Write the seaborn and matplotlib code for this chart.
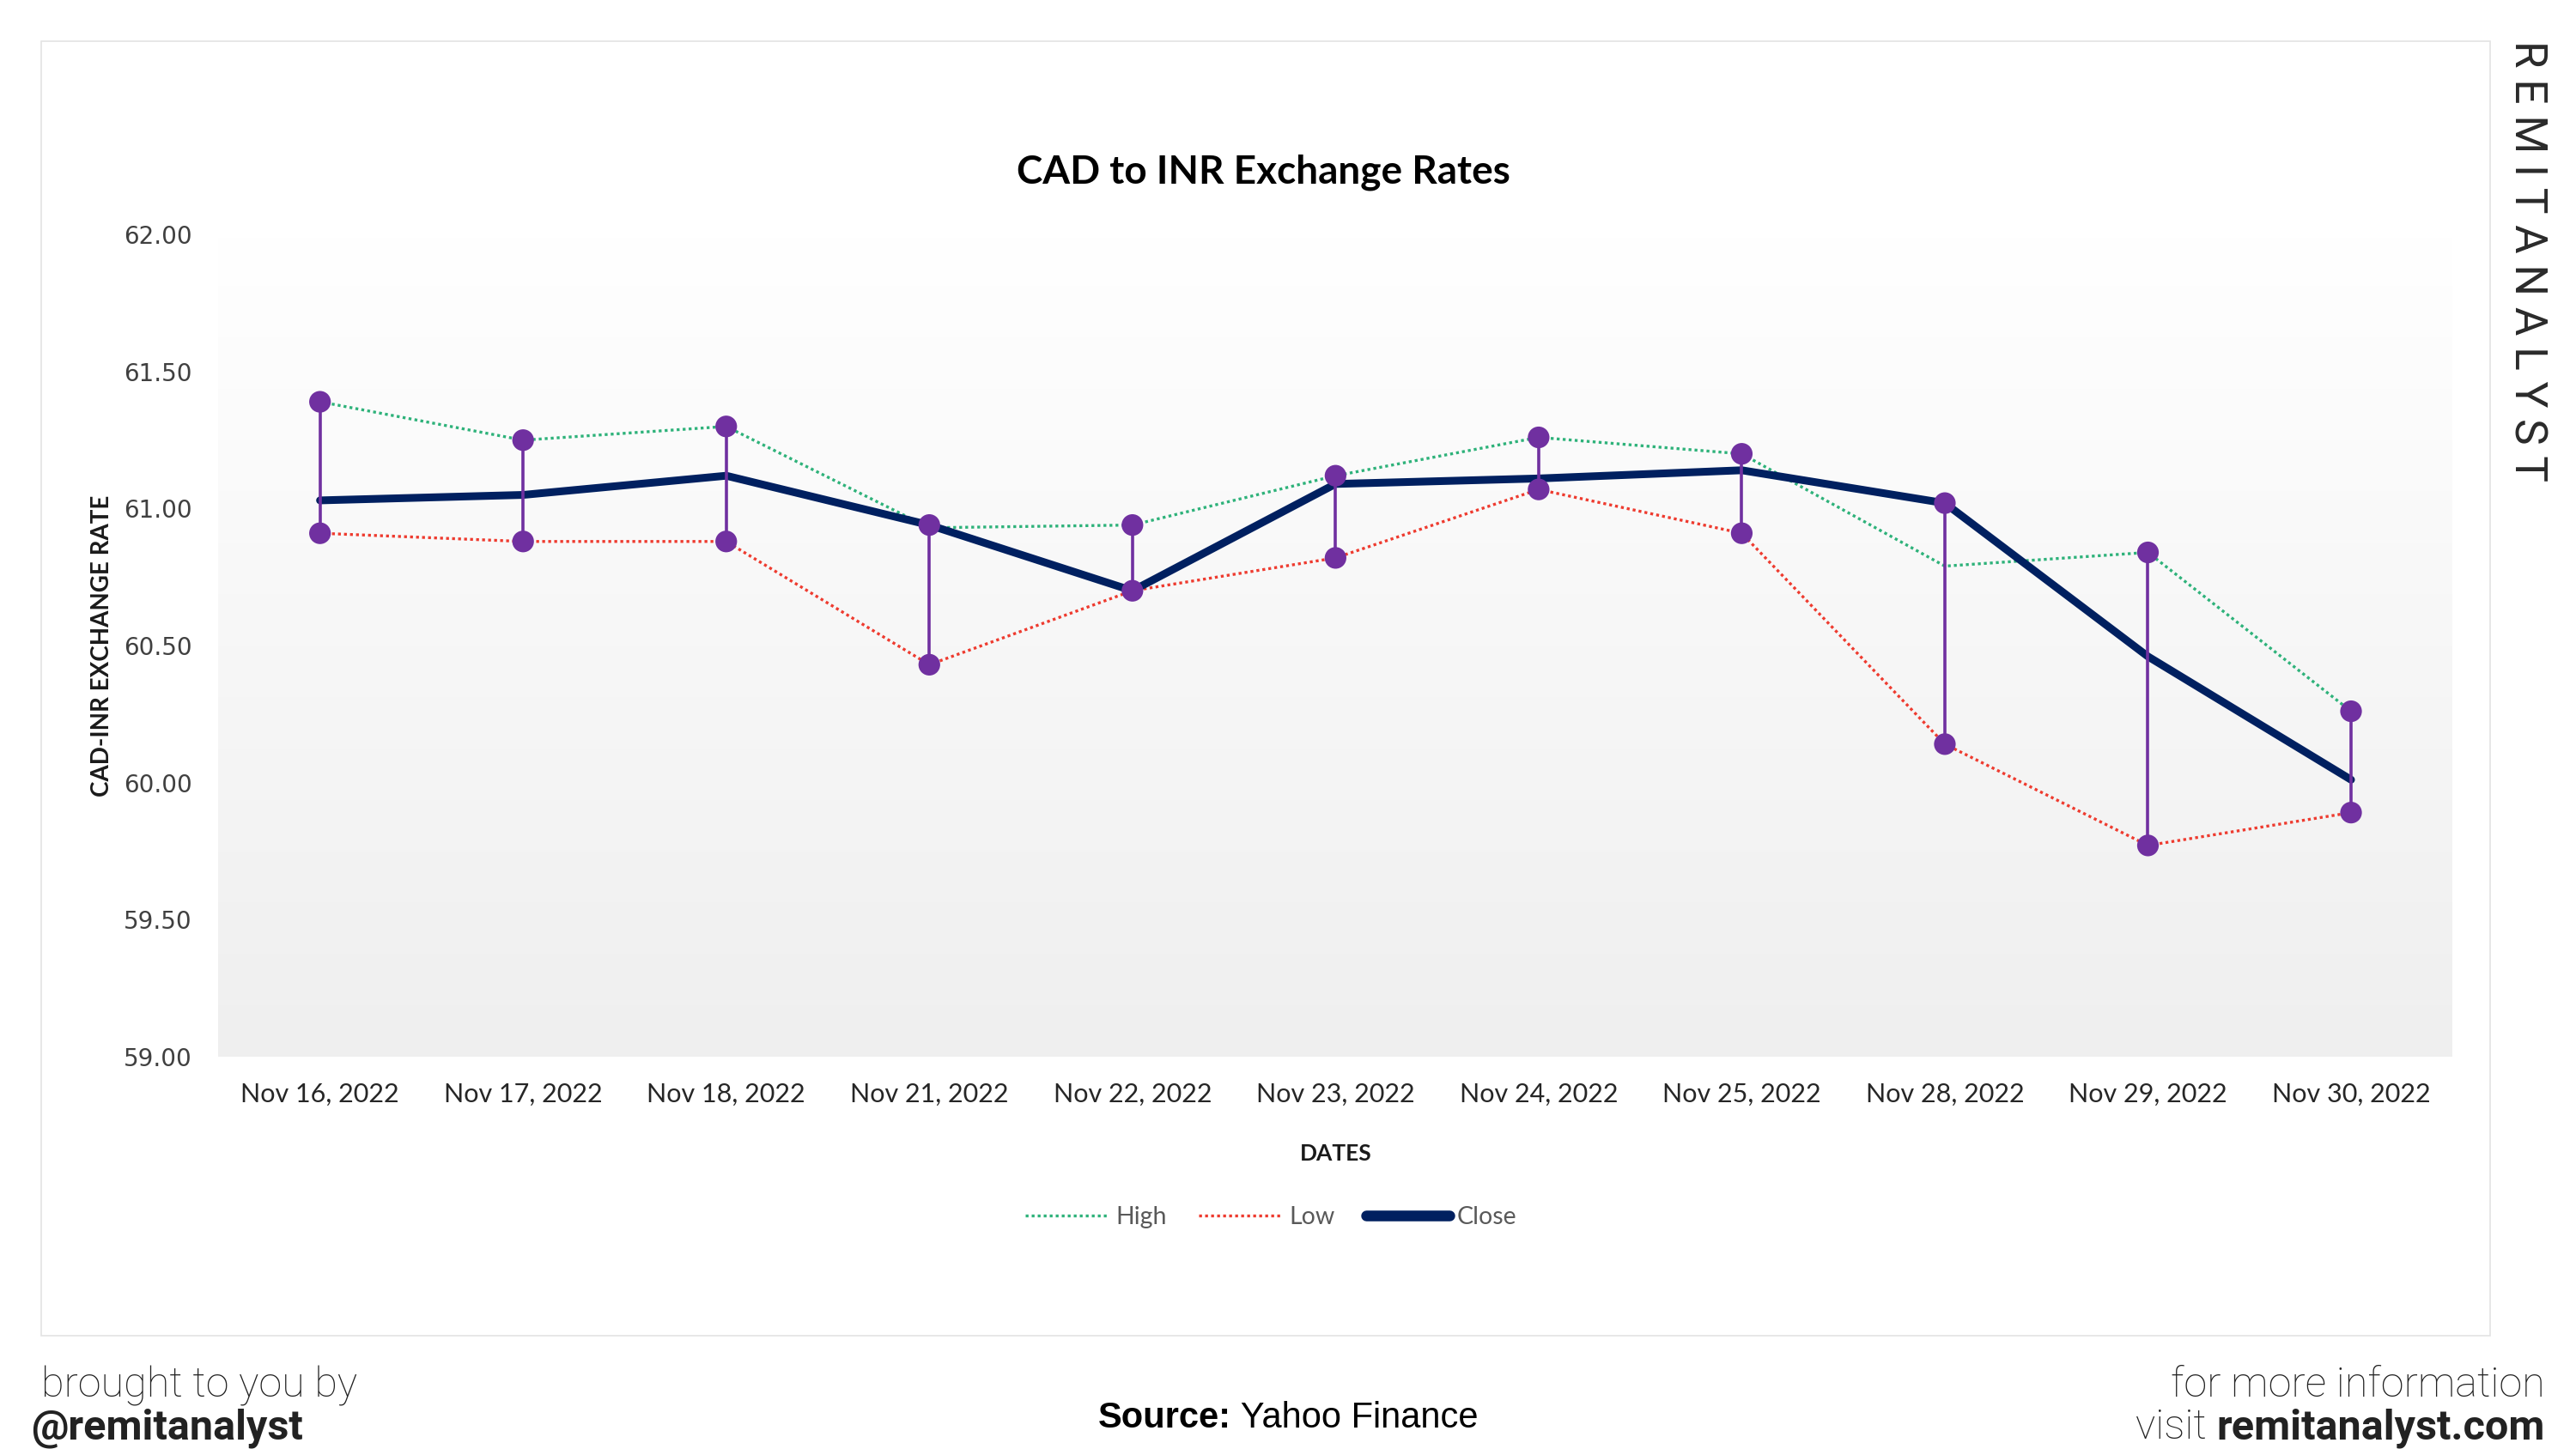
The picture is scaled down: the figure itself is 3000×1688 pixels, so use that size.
import numpy as np
import pandas as pd
import matplotlib.pyplot as plt
import seaborn as sns
from matplotlib.lines import Line2D
from matplotlib.patches import Rectangle
from matplotlib.colors import LinearSegmentedColormap

# ------------------------------
# Data
# ------------------------------
dates = ["Nov 16, 2022", "Nov 17, 2022", "Nov 18, 2022", "Nov 21, 2022",
         "Nov 22, 2022", "Nov 23, 2022", "Nov 24, 2022", "Nov 25, 2022",
         "Nov 28, 2022", "Nov 29, 2022", "Nov 30, 2022"]
high = [61.39, 61.25, 61.30, 60.93, 60.94, 61.12, 61.26, 61.20, 60.79, 60.84, 60.26]
low = [60.91, 60.88, 60.88, 60.43, 60.70, 60.82, 61.07, 60.91, 60.14, 59.77, 59.89]
close = [61.03, 61.05, 61.12, 60.94, 60.70, 61.09, 61.11, 61.14, 61.02, 60.46, 60.01]
y_ticks = [59.0, 59.5, 60.0, 60.5, 61.0, 61.5, 62.0]

df = pd.DataFrame({"date": dates, "High": high, "Low": low, "Close": close})
df["top"] = df[["High", "Low", "Close"]].max(axis=1)
df["bottom"] = df[["High", "Low", "Close"]].min(axis=1)

# colours
GREEN = "#2eb27a"
RED = "#ee3b2f"
NAVY = "#002060"
PURPLE = "#7030a0"

sns.set_style("white")
plt.rcParams["font.family"] = ["Lato", "DejaVu Sans"]

fig = plt.figure(figsize=(30, 16.88), dpi=100)

# outer frame
fig.patches.append(Rectangle((0.0159, 0.0782), 0.9509, 0.8935, transform=fig.transFigure,
                             fill=False, edgecolor="#e3e3e3", lw=1.2, zorder=0))

pos = [0.0848, 0.271, 0.8673, 0.567]

# gradient plot area background
bg = fig.add_axes(pos, zorder=0)
grad = np.linspace(0, 1, 256).reshape(-1, 1)
cmap = LinearSegmentedColormap.from_list("bg", ["#efefef", "#ffffff"])
bg.imshow(grad, cmap=cmap, aspect="auto", origin="lower", extent=[0, 1, 0, 1])
bg.set_axis_off()

ax = fig.add_axes(pos, zorder=1)
ax.set_facecolor("none")

# High / Low / Close lines
sns.lineplot(data=df, x="date", y="High", sort=False, ax=ax, color=GREEN,
             lw=2.4, linestyle=(0, (1, 1.1)), zorder=2)
sns.lineplot(data=df, x="date", y="Low", sort=False, ax=ax, color=RED,
             lw=2.4, linestyle=(0, (1, 1.1)), zorder=2)
sns.lineplot(data=df, x="date", y="Close", sort=False, ax=ax, color=NAVY,
             lw=6.5, zorder=3, solid_capstyle="round")

# high-low bars with end markers
ax.vlines(df["date"], df["bottom"], df["top"], color=PURPLE, lw=2.6, zorder=4)
sns.scatterplot(data=df, x="date", y="top", ax=ax, color=PURPLE, s=330,
                edgecolor="none", zorder=5)
sns.scatterplot(data=df, x="date", y="bottom", ax=ax, color=PURPLE, s=330,
                edgecolor="none", zorder=5)

ax.set_xlim(-0.5, len(dates) - 0.5)
ax.set_ylim(59, 62)
ax.set_yticks(y_ticks)
ax.set_yticklabels([f"{v:.2f}" for v in y_ticks], fontfamily="DejaVu Sans",
                   fontsize=20, color="#404040")
ax.tick_params(axis="y", length=0, pad=22)
ax.tick_params(axis="x", length=0, pad=22, labelsize=22, labelcolor="#262626")
for s in ax.spines.values():
    s.set_visible(False)

ax.set_ylabel("CAD-INR EXCHANGE RATE", fontsize=20, fontweight="bold", color="#1a1a1a")
ax.yaxis.set_label_coords(-0.047, 0.5)
ax.set_xlabel("DATES", fontsize=19, fontweight="bold", color="#1a1a1a")
ax.xaxis.set_label_coords(0.5, -0.106)

# legend
handles = [Line2D([], [], color=GREEN, lw=2.4, linestyle=(0, (1, 1.1))),
           Line2D([], [], color=RED, lw=2.4, linestyle=(0, (1, 1.1))),
           Line2D([], [], color=NAVY, lw=9, solid_capstyle="round")]
leg = ax.legend(handles, ["High", "Low", "Close"], loc="center",
                bbox_to_anchor=(0.471, -0.196), ncol=3, frameon=False,
                fontsize=20.5, handlelength=3.4, handletextpad=0.3, columnspacing=1.3)
for t in leg.get_texts():
    t.set_color("#595959")

# title
fig.text(0.4905, 0.881, "CAD to INR Exchange Rates", ha="center", va="center",
         fontsize=33, fontweight="bold", color="#000000")

# watermark
fig.text(0.981, 0.82, " ".join("REMITANALYST"), rotation=-90, ha="center", va="center",
         fontsize=37, fontfamily="Roboto", color="#2a2a2a")

# footer texts
FS = 35
fig.text(0.0159, 0.036, "brought to you by", ha="left", va="baseline",
         fontsize=FS, fontfamily="Roboto", fontweight="light", color="#222222")
fig.text(0.012, 0.007, "@remitanalyst", ha="left", va="baseline",
         fontsize=FS, fontfamily="Roboto", fontweight="bold", color="#222222")
fig.text(0.988, 0.036, "for more information", ha="right", va="baseline",
         fontsize=FS, fontfamily="Roboto", fontweight="light", color="#222222")

renderer = fig.canvas.get_renderer()
bold_site = fig.text(0.988, 0.007, "remitanalyst.com", ha="right", va="baseline",
                     fontsize=FS, fontfamily="Roboto", fontweight="bold", color="#222222")
bb = bold_site.get_window_extent(renderer).transformed(fig.transFigure.inverted())
fig.text(bb.x0, 0.007, "visit ", ha="right", va="baseline",
         fontsize=FS, fontfamily="Roboto", fontweight="light", color="#222222")

src_bold = fig.text(0.5, 0.0147, "Source:", ha="left", va="baseline",
                    fontsize=30, fontfamily="Liberation Sans", fontweight="bold", color="#000000")
src_rest = fig.text(0.5, 0.0147, " Yahoo Finance", ha="left", va="baseline",
                    fontsize=30, fontfamily="Liberation Sans", color="#000000")
w1 = src_bold.get_window_extent(renderer).transformed(fig.transFigure.inverted()).width
w2 = src_rest.get_window_extent(renderer).transformed(fig.transFigure.inverted()).width
start = 0.5 - (w1 + w2) / 2
src_bold.set_x(start)
src_rest.set_x(start + w1)

fig.savefig("out.png", dpi=100, facecolor="white")
